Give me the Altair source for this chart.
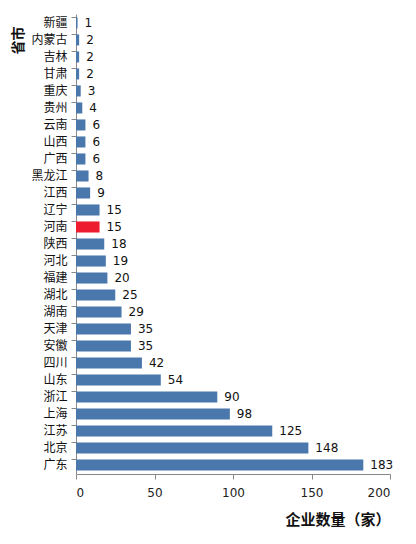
import altair as alt
import pandas as pd

provinces = ["新疆", "内蒙古", "吉林", "甘肃", "重庆", "贵州", "云南", "山西", "广西", "黑龙江",
             "江西", "辽宁", "河南", "陕西", "河北", "福建", "湖北", "湖南", "天津", "安徽",
             "四川", "山东", "浙江", "上海", "江苏", "北京", "广东"]
counts = [1, 2, 2, 2, 3, 4, 6, 6, 6, 8, 9, 15, 15, 18, 19, 20, 25, 29, 35, 35,
          42, 54, 90, 98, 125, 148, 183]
highlight = ["河南"]

df = pd.DataFrame({"省市": provinces, "企业数量": counts})
df["hl"] = df["省市"].isin(highlight)

FONT = "Noto Sans CJK SC"

y_enc = alt.Y("省市:N", sort=provinces,
              scale=alt.Scale(paddingInner=0.35, paddingOuter=0.2),
              axis=alt.Axis(title="省市", titleAngle=-90, titleAlign="right",
                            titleAnchor="end", titleX=-65, titleY=12, titleBaseline="top",
                            titleFont=FONT, titleFontSize=14, titleFontWeight="bold",
                            titleColor="#111", labelFont=FONT, labelFontSize=12,
                            labelColor="#111", labelPadding=4, tickSize=5,
                            bandPosition=0, domainColor="#888", tickColor="#888"))

bars = alt.Chart(df).mark_bar().encode(
    x=alt.X("企业数量:Q", scale=alt.Scale(domain=[0, 200]),
            axis=alt.Axis(values=[0, 50, 100, 150, 200], title="企业数量（家）",
                          titleAnchor="end", titleAlign="right", titleFont=FONT,
                          titleFontSize=15, titleFontWeight="bold", titleColor="#111",
                          titlePadding=14, labelFont="DejaVu Sans", labelFontSize=12,
                          labelColor="#222", labelPadding=8, grid=False, tickSize=5,
                          domainColor="#888", tickColor="#888")),
    y=y_enc,
    color=alt.condition(alt.datum.hl, alt.value("#ED1C2E"), alt.value("#4A78AC")),
)

text = alt.Chart(df).mark_text(align="left", dx=7, font="DejaVu Sans", fontSize=12,
                               color="#111").encode(
    x="企业数量:Q",
    y=alt.Y("省市:N", sort=provinces),
    text="企业数量:Q",
)

chart = (bars + text).properties(
    width=314, height=460,
    autosize=alt.AutoSizeParams(type="none"),
    padding={"left": 68, "top": 6, "right": 10, "bottom": 70},
).configure_view(stroke=None)

chart.save("out.html", embed_options={"renderer": "svg", "actions": False})
